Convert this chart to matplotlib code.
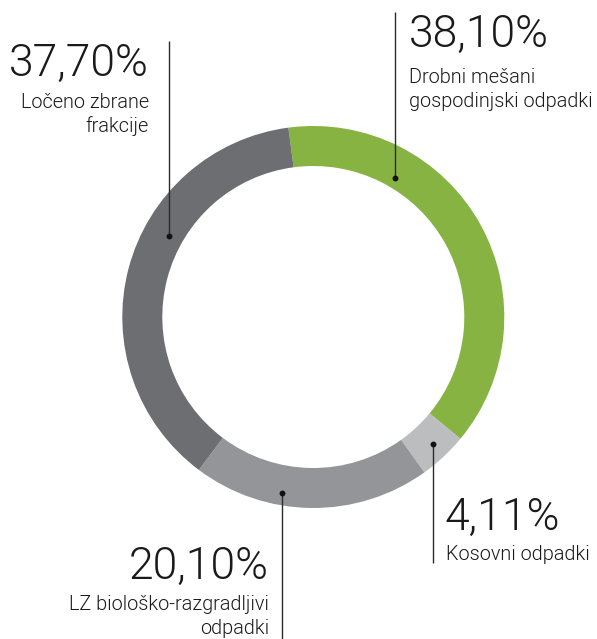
import matplotlib
matplotlib.use("Agg")
import matplotlib.pyplot as plt
from matplotlib import font_manager as fm

# ---- data ----
labels = ["Drobni mešani\ngospodinjski odpadki", "Kosovni odpadki",
          "LZ biološko-razgradljivi\nodpadki", "Ločeno zbrane\nfrakcije"]
values = [38.10, 4.11, 20.10, 37.70]
value_texts = ["38,10%", "4,11%", "20,10%", "37,70%"]
colors = ["#86b342", "#bcbdbf", "#939598", "#6d6e71"]

# pick a light font if available
family = "DejaVu Sans"
weight = "normal"
for fam in ["Roboto", "Lato", "Open Sans", "Noto Sans", "Inter"]:
    found = [f for f in fm.fontManager.ttflist if f.name == fam and f.weight in (300, "light") and f.style == "normal"]
    if found:
        family, weight = fam, 300
        break
else:
    family = "Roboto"

W, H = 597, 639
fig = plt.figure(figsize=(W / 100, H / 100), dpi=100)
ax = fig.add_axes([0, 0, 1, 1])

cx, cy = 313.3, H - 317.0
R = 191
ax.pie(values, colors=colors, startangle=97.5, counterclock=False,
       radius=R, center=(cx, cy), frame=True,
       wedgeprops=dict(width=40, edgecolor="none", linewidth=0))
ax.set_xlim(0, W)
ax.set_ylim(0, H)
ax.set_aspect("equal")
ax.axis("off")

def py(y):
    return H - y

line_kw = dict(color="#2b2b2b", lw=1.0, solid_capstyle="butt")
dot_kw = dict(color="#111111", ms=3.2, marker="o", lw=0)

# leader lines: (x, y_dot, y_end)
leaders = [(395, 178, 12), (432.7, 444, 563), (281.7, 492.5, 639), (169, 236, 41)]
for (x, yd, ye) in leaders:
    ax.plot([x, x], [py(yd), py(ye)], **line_kw)
    ax.plot([x], [py(yd)], **dot_kw)

big = dict(fontsize=32, family=family, weight=weight, color="#1a1a1a", va="baseline")
small = dict(fontsize=14.3, family=family, weight=weight, color="#1a1a1a", va="baseline")

# Green (top right)
ax.text(409, py(47), value_texts[0], ha="left", **big)
ax.text(409, py(83), "Drobni mešani", ha="left", **small)
ax.text(409, py(107), "gospodinjski odpadki", ha="left", **small)
# Kosovni
ax.text(445, py(530), value_texts[1], ha="left", **big)
ax.text(446, py(560), "Kosovni odpadki", ha="left", **small)
# LZ
ax.text(269, py(579), value_texts[2], ha="right", **big)
ax.text(269, py(610), "LZ biološko-razgradljivi", ha="right", **small)
ax.text(269, py(634), "odpadki", ha="right", **small)
# Ločeno
ax.text(149, py(76), value_texts[3], ha="right", **big)
ax.text(149, py(108), "Ločeno zbrane", ha="right", **small)
ax.text(149, py(132), "frakcije", ha="right", **small)

fig.savefig("out.png", dpi=100, facecolor="white")
